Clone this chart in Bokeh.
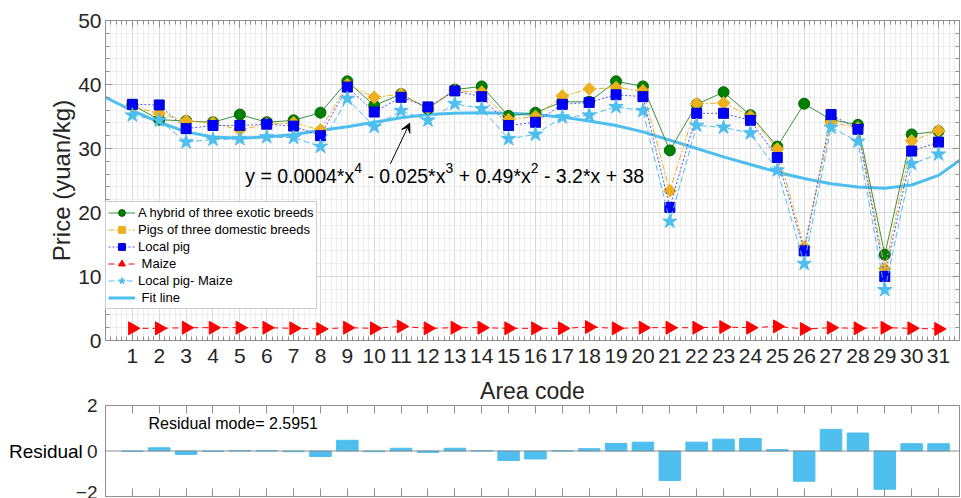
import math
from bokeh.plotting import figure
from bokeh.layouts import column
from bokeh.models import (Range1d, LinearAxis, FixedTicker, ColumnDataSource, Legend,
                          LegendItem, Label, Arrow, VeeHead, Span)
from bokeh.embed import file_html
from bokeh.resources import INLINE

# ---------------- data ----------------
area = list(range(1, 32))
hybrid = [36.8, 34.5, 34.3, 34.1, 35.3, 34.1, 34.4, 35.6, 40.5, 36.7, 38.5, 36.2, 39.2, 39.7, 35.1, 35.6,
          37.3, 37.3, 40.5, 39.7, 29.7, 36.9, 38.8, 35.2, 30.3, 37.0, 34.5, 33.7, 13.4, 32.2, 32.7]
domestic = [36.5, 35.5, 34.3, 34.0, 32.9, 33.8, 34.0, 32.9, 40.0, 38.0, 38.5, 36.3, 39.0, 38.8, 34.5, 35.0,
            38.2, 39.3, 39.5, 39.0, 23.4, 37.0, 37.1, 35.0, 29.9, 14.6, 34.1, 33.2, 11.2, 31.2, 32.8]
local_pig = [36.9, 36.8, 33.1, 33.6, 33.6, 33.8, 33.5, 32.0, 39.6, 35.7, 38.0, 36.5, 39.0, 38.1, 33.6, 34.1,
             36.9, 37.2, 38.4, 38.1, 20.8, 35.5, 35.5, 34.4, 28.6, 14.0, 35.3, 33.0, 10.0, 29.6, 31.0]
maize = [1.9, 1.9, 2.0, 2.0, 2.0, 2.0, 1.9, 1.8, 2.0, 1.9, 2.2, 1.9, 2.0, 2.0, 1.9, 1.9,
         1.9, 2.1, 1.9, 2.0, 2.0, 2.0, 2.1, 2.0, 2.2, 1.8, 2.0, 1.9, 2.0, 1.9, 1.8]
pig_minus_maize = [35.2, 34.4, 31.0, 31.4, 31.5, 31.8, 31.7, 30.3, 37.8, 33.4, 35.9, 34.4, 37.0, 36.2, 31.5, 32.2,
                   34.9, 35.2, 36.5, 35.9, 18.6, 33.6, 33.3, 32.4, 26.6, 12.0, 33.3, 31.1, 7.9, 27.6, 29.1]
fit_x = list(range(0, 33))
fit_y = [38.0, 35.9, 34.1, 32.6, 31.8, 31.6, 31.8, 32.2, 32.8, 33.4, 34.1, 34.8, 35.3, 35.5, 35.6, 35.5,
         35.3, 34.9, 34.3, 33.6, 32.6, 31.3, 30.0, 28.7, 27.5, 26.3, 25.3, 24.5, 24.0, 23.8, 24.3, 25.8, 28.8]
residual = [-0.02, 0.14, -0.15, -0.02, 0.02, 0.02, -0.03, -0.24, 0.47, -0.03, 0.12, -0.06, 0.12, 0.02, -0.42, -0.35,
            0.01, 0.10, 0.33, 0.39, -1.30, 0.39, 0.52, 0.55, 0.06, -1.33, 0.95, 0.79, -1.68, 0.32, 0.32]
y_ticks = [0, 10, 20, 30, 40, 50]
res_ticks = [-2, 0, 2]
# equation pieces: (text, is_superscript)
equation_parts = [("y = 0.0004*x", False), ("4", True), (" - 0.025*x", False), ("3", True),
                  (" + 0.49*x", False), ("2", True), (" - 3.2*x + 38", False)]
residual_note = "Residual mode= 2.5951"

# ---------------- style ----------------
FONT = "Liberation Sans"
GREY = "#8f8f8f"
TXT = "#262626"
# Arial / Liberation Sans advance widths (1/1000 em) for the characters of the equation
ADV = {" ": 278, "*": 389, "+": 584, "-": 333, ".": 278, "=": 584, "x": 500, "y": 500}


def text_width(s, px):
    return sum(ADV.get(c, 556) for c in s) * px / 1000.0


src = ColumnDataSource(dict(area=area, hybrid=hybrid, domestic=domestic, local=local_pig,
                            maize=maize, diff=pig_minus_maize, residual=residual))
fit_src = ColumnDataSource(dict(x=fit_x, y=fit_y))

x_minor = [i / 5 for i in range(0, 160)]

p1 = figure(width=961, height=372, x_range=Range1d(0, 31.78), y_range=Range1d(0, 50),
            output_backend="svg", toolbar_location=None,
            min_border_left=105, min_border_right=2, min_border_top=20, min_border_bottom=32)
p1.outline_line_color = GREY
p1.background_fill_color = "white"

p1.xaxis.ticker = FixedTicker(ticks=area, minor_ticks=x_minor)
p1.yaxis.ticker = FixedTicker(ticks=y_ticks, minor_ticks=list(range(0, 51, 2)))


def style_axis(ax, labels=True, tick=7, minor=4, size="21px"):
    ax.major_tick_in = tick
    ax.major_tick_out = 0
    ax.minor_tick_in = minor
    ax.minor_tick_out = 0
    ax.axis_line_color = GREY
    ax.major_tick_line_color = GREY
    ax.minor_tick_line_color = GREY if minor else None
    ax.major_label_text_font = FONT
    if labels:
        ax.major_label_text_font_size = size
        ax.major_label_text_color = TXT
    else:
        ax.major_label_text_font_size = "1px"
        ax.major_label_text_color = None
        ax.major_label_standoff = 0


for ax in p1.xaxis + p1.yaxis:
    style_axis(ax)
p1.xaxis.major_label_standoff = 8
p1.yaxis.major_label_standoff = 4

p1.yaxis.axis_label = "Price (yuan/kg)"
p1.yaxis.axis_label_text_font = FONT
p1.yaxis.axis_label_text_font_size = "24px"
p1.yaxis.axis_label_text_font_style = "normal"
p1.yaxis.axis_label_text_color = TXT
p1.yaxis.axis_label_standoff = 0

top_ax = LinearAxis(ticker=FixedTicker(ticks=area, minor_ticks=x_minor))
style_axis(top_ax, labels=False)
p1.add_layout(top_ax, "above")
right_ax = LinearAxis(ticker=FixedTicker(ticks=y_ticks, minor_ticks=list(range(0, 51, 2))))
style_axis(right_ax, labels=False)
p1.add_layout(right_ax, "right")

p1.xgrid.grid_line_color = "#d9d9d9"
p1.ygrid.grid_line_color = "#d9d9d9"
p1.xgrid.minor_grid_line_color = "#ededed"
p1.ygrid.minor_grid_line_color = "#ededed"

# series
l6 = p1.line("x", "y", source=fit_src, line_color="#4DBEEE", line_width=3)
l1 = p1.line("area", "hybrid", source=src, line_color="#3d8f3d", line_width=1)
s1 = p1.scatter("area", "hybrid", source=src, marker="circle", size=11,
                fill_color="#008000", line_color="#006600")
l2 = p1.line("area", "domestic", source=src, line_color="#EDB120", line_width=1, line_dash="6 2 2 2")
s2 = p1.scatter("area", "domestic", source=src, marker="square", angle=math.pi / 4, size=9,
                fill_color="#EDB120", line_color="#EDB120")
l3 = p1.line("area", "local", source=src, line_color="#5050ff", line_width=1, line_dash="2 2")
s3 = p1.scatter("area", "local", source=src, marker="square", size=10,
                fill_color="#0000FF", line_color="#0000cc")
l4 = p1.line("area", "maize", source=src, line_color="#FF0000", line_width=1, line_dash="6 4")
s4 = p1.scatter("area", "maize", source=src, marker="triangle", angle=-math.pi / 2, size=13,
                fill_color="#FF0000", line_color="#FF0000")
l5 = p1.line("area", "diff", source=src, line_color="#4DBEEE", line_width=1, line_dash="6 3")
s5 = p1.scatter("area", "diff", source=src, marker="star", size=15,
                fill_color="#4DBEEE", line_color="#4DBEEE")

legend = Legend(items=[
    LegendItem(label="A hybrid of three exotic breeds", renderers=[l1, s1]),
    LegendItem(label="Pigs of three domestic breeds", renderers=[l2, s2]),
    LegendItem(label="Local pig", renderers=[l3, s3]),
    LegendItem(label=" Maize", renderers=[l4, s4]),
    LegendItem(label="Local pig- Maize", renderers=[l5, s5]),
    LegendItem(label=" Fit line", renderers=[l6]),
], location=(0, 31))
legend.label_text_font = FONT
legend.label_text_font_size = "13px"
legend.label_text_color = "#000000"
legend.glyph_width = 27
legend.glyph_height = 17
legend.label_height = 17
legend.label_standoff = 3
legend.spacing = 0
legend.padding = 2
legend.margin = 0
legend.border_line_color = "#9a9a9a"
legend.background_fill_alpha = 1.0
p1.add_layout(legend)

# equation with real superscripts
MAIN_PX, SUP_PX = 19.5, 14
offset = 0.0
for txt, sup in equation_parts:
    px = SUP_PX if sup else MAIN_PX
    lead = len(txt) - len(txt.lstrip(" "))
    offset += text_width(" " * lead, px)
    body = txt.lstrip(" ")
    p1.add_layout(Label(x=5.2, y=25.7, x_offset=offset, y_offset=8 if sup else 0, text=body,
                        text_font=FONT, text_font_size=f"{px}px", text_baseline="alphabetic",
                        text_color="#000000"))
    offset += text_width(body, px)

p1.add_layout(Arrow(end=VeeHead(size=9, line_color="black", fill_color="black", line_width=1),
                    x_start=10.6, y_start=27.6, x_end=11.32, y_end=33.95,
                    line_color="black", line_width=1))

# ---------------- residual panel ----------------
p2 = figure(width=961, height=126, x_range=p1.x_range, y_range=Range1d(-2, 2),
            output_backend="svg", toolbar_location=None,
            min_border_left=105, min_border_right=2, min_border_top=33, min_border_bottom=2)
p2.outline_line_color = GREY
p2.grid.visible = False
p2.vbar(x="area", top="residual", bottom=0, width=0.8, source=src,
        fill_color="#4DBEEE", line_color="#4DBEEE")
p2.add_layout(Span(location=0, dimension="width", line_color="#8c8c8c", line_width=1))

p2.xaxis.ticker = FixedTicker(ticks=area, minor_ticks=[])
style_axis(p2.xaxis[0], labels=False, tick=8, minor=0)
p2top = LinearAxis(ticker=FixedTicker(ticks=area, minor_ticks=[]))
style_axis(p2top, labels=False, tick=8, minor=0)
# the shared x-axis title sits between the two panels
p2top.axis_label = "Area code"
p2top.axis_label_text_font = FONT
p2top.axis_label_text_font_size = "23px"
p2top.axis_label_text_font_style = "normal"
p2top.axis_label_text_color = TXT
p2top.axis_label_standoff = 2
p2.add_layout(p2top, "above")

p2.yaxis.ticker = FixedTicker(ticks=res_ticks, minor_ticks=[])
style_axis(p2.yaxis[0], tick=0, minor=0, size="19px")
p2.yaxis.major_label_standoff = 8
p2.yaxis.axis_label = "Residual"
p2.yaxis.axis_label_orientation = "horizontal"
p2.yaxis.axis_label_text_font = FONT
p2.yaxis.axis_label_text_font_size = "19px"
p2.yaxis.axis_label_text_font_style = "normal"
p2.yaxis.axis_label_text_color = "#000000"
p2.yaxis.axis_label_standoff = -10

p2.add_layout(Label(x=1.6, y=1.23, text=residual_note, text_font=FONT, text_font_size="16px",
                    text_baseline="alphabetic", text_color="#000000"))

layout = column(p1, p2, spacing=0)
open("out.html", "w").write(file_html(layout, INLINE))
